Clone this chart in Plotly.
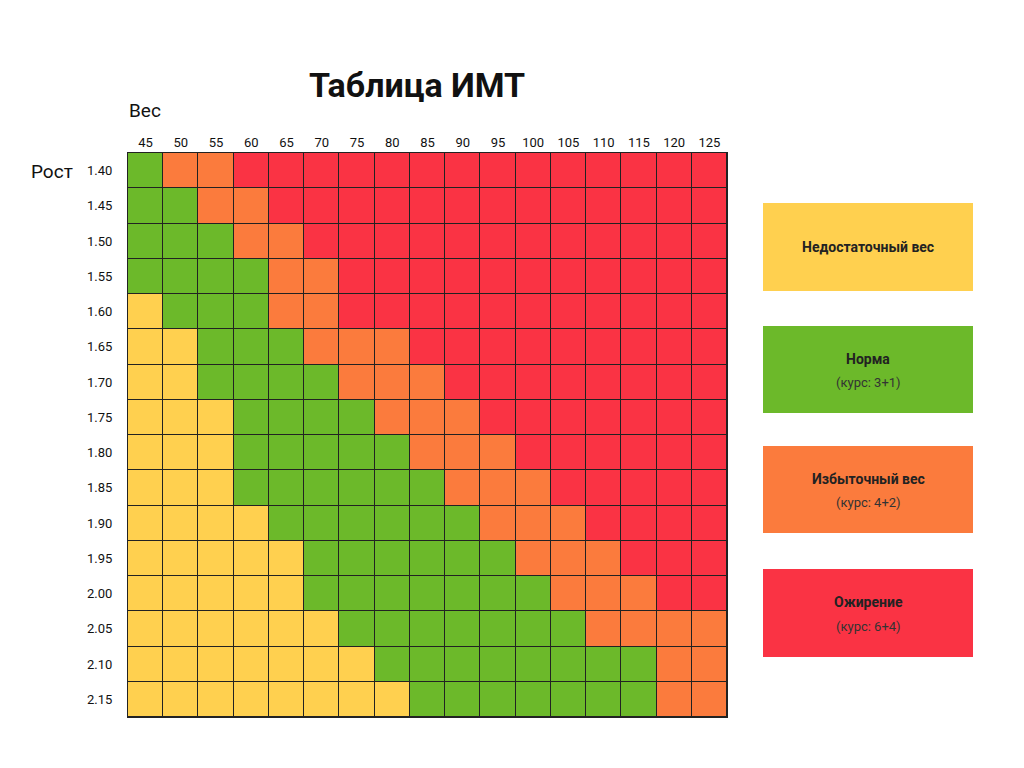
import plotly.graph_objects as go

weights = [45,50,55,60,65,70,75,80,85,90,95,100,105,110,115,120,125]
heights = ["1.40","1.45","1.50","1.55","1.60","1.65","1.70","1.75","1.80","1.85","1.90","1.95","2.00","2.05","2.10","2.15"]
# 0 = underweight, 1 = normal, 2 = overweight, 3 = obese
categories = [
    [1,2,2,3,3,3,3,3,3,3,3,3,3,3,3,3,3],
    [1,1,2,2,3,3,3,3,3,3,3,3,3,3,3,3,3],
    [1,1,1,2,2,3,3,3,3,3,3,3,3,3,3,3,3],
    [1,1,1,1,2,2,3,3,3,3,3,3,3,3,3,3,3],
    [0,1,1,1,2,2,3,3,3,3,3,3,3,3,3,3,3],
    [0,0,1,1,1,2,2,2,3,3,3,3,3,3,3,3,3],
    [0,0,1,1,1,1,2,2,2,3,3,3,3,3,3,3,3],
    [0,0,0,1,1,1,1,2,2,2,3,3,3,3,3,3,3],
    [0,0,0,1,1,1,1,1,2,2,2,3,3,3,3,3,3],
    [0,0,0,1,1,1,1,1,1,2,2,2,3,3,3,3,3],
    [0,0,0,0,1,1,1,1,1,1,2,2,2,3,3,3,3],
    [0,0,0,0,0,1,1,1,1,1,1,2,2,2,3,3,3],
    [0,0,0,0,0,1,1,1,1,1,1,1,2,2,2,3,3],
    [0,0,0,0,0,0,1,1,1,1,1,1,1,2,2,2,2],
    [0,0,0,0,0,0,0,1,1,1,1,1,1,1,1,2,2],
    [0,0,0,0,0,0,0,0,1,1,1,1,1,1,1,2,2],
]
legend_titles = ["Недостаточный вес", "Норма", "Избыточный вес", "Ожирение"]
legend_subs = ["", "(курс: 3+1)", "(курс: 4+2)", "(курс: 6+4)"]
colors = ["#FFD04F", "#6CB92A", "#FB7B3D", "#FA3344"]

cs = []
for i, c in enumerate(colors):
    cs += [[i/4, c], [(i+1)/4, c]]

fig = go.Figure(go.Heatmap(
    z=categories, x=[str(w) for w in weights], y=heights,
    zmin=0, zmax=4, colorscale=cs, showscale=False,
    xgap=1, ygap=1, hoverinfo="skip"))

OFF = 8  # page body margin
L, R, T, B = 128, 727, 153, 717
W, H = 1024, 768
def px(x): return (x - L) / (R - L)
def py(y): return (B - y) / (B - T)

boxes = [(203, 291), (326, 413), (446, 533), (569, 657)]
shapes, ann = [], []
for i, (y0, y1) in enumerate(boxes):
    shapes.append(dict(type="rect", xref="paper", yref="paper", x0=px(763), x1=px(973),
                       y0=py(y1), y1=py(y0), fillcolor=colors[i], line=dict(width=0), layer="below"))
    cy = (y0 + y1) / 2
    common = dict(xref="paper", yref="paper", showarrow=False, xanchor="center", yanchor="middle")
    if legend_subs[i]:
        ann.append(dict(x=px(868), y=py(cy - 11), text="<b>" + legend_titles[i] + "</b>",
                        font=dict(size=14, color="#222"), **common))
        ann.append(dict(x=px(868), y=py(cy + 13), text=legend_subs[i],
                        font=dict(size=13, color="#333"), **common))
    else:
        ann.append(dict(x=px(868), y=py(cy), text="<b>" + legend_titles[i] + "</b>",
                        font=dict(size=14, color="#222"), **common))
c2 = dict(xref="paper", yref="paper", showarrow=False, xanchor="center", yanchor="middle")
ann.append(dict(x=px(417), y=py(85), text="<b>Таблица ИМТ</b>", font=dict(size=34, color="#111"), **c2))
ann.append(dict(x=px(145), y=py(111), text="Вес", font=dict(size=19, color="#111"), **c2))
ann.append(dict(x=px(52), y=py(172), text="Рост", font=dict(size=19, color="#111"), **c2))

fig.update_layout(
    width=W, height=H, margin=dict(l=L - OFF, r=W - R + OFF, t=T - OFF, b=H - B + OFF),
    paper_bgcolor="white", plot_bgcolor="#222",
    font=dict(family="Roboto, Arial, sans-serif", color="#111"),
    shapes=shapes, annotations=ann,
    xaxis=dict(side="top", type="category", tickfont=dict(size=13), ticks="", showgrid=False,
               zeroline=False, showline=True, linecolor="#222", mirror=True),
    yaxis=dict(type="category", autorange="reversed", tickfont=dict(size=13), ticks="",
               showgrid=False, zeroline=False, ticklabelstandoff=12,
               showline=True, linecolor="#222", mirror=True),
)
fig.write_html("out.html")
